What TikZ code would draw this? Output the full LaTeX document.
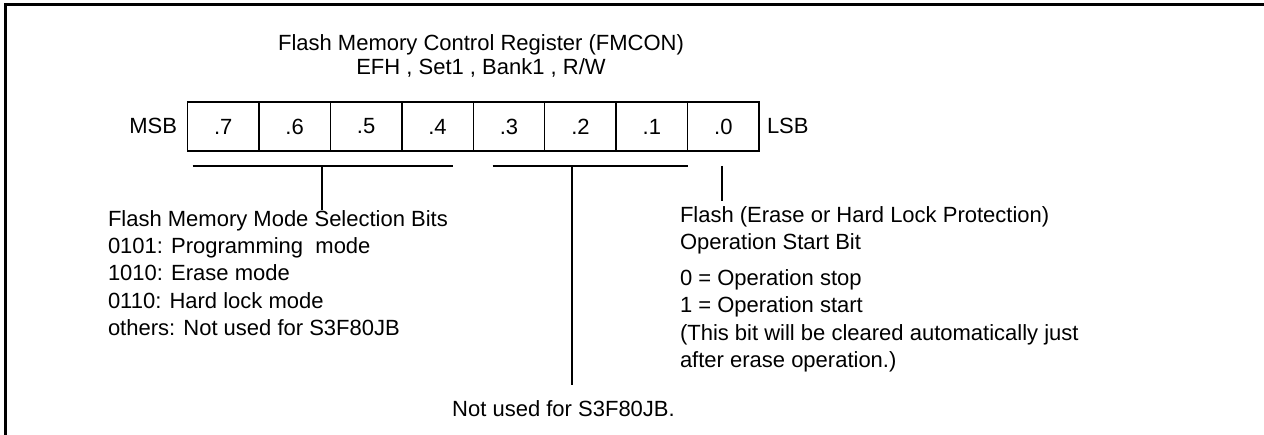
\documentclass[tikz,border=0pt]{standalone}
\usepackage{fontspec}
\setmainfont{Liberation Sans}
\begin{document}
\begin{tikzpicture}[x=1pt,y=-1pt,line width=1.4pt,
  txt/.style={font=\fontsize{22}{27.2}\selectfont, inner sep=0pt, outer sep=0pt},
  title/.style={font=\fontsize{22}{23.3}\selectfont, inner sep=0pt, align=center},
  cell/.style={draw, line width=1.4pt, minimum width=71.45pt, minimum height=49pt, inner sep=0pt, font=\fontsize{22}{26}\selectfont},
  frame/.style={line width=2.6pt},
  bracket/.style={line width=1.4pt}]
\path[use as bounding box] (0,0) rectangle (1264,435);
% outer frame (top and left edges visible)
\coordinate (fbl) at (5.3,440);
\coordinate (ftl) at (5.3,4.7);
\coordinate (ftr) at (1270,4.7);
\draw[frame] (fbl) -- (ftl) -- (ftr);
% title
\node[title, anchor=north] (title) at (481,34.2) {Flash Memory Control Register (FMCON)\\EFH , Set1 , Bank1 , R/W};
% register cells
\foreach \b in {7,...,0}{
  \pgfmathsetmacro{\xc}{223.2+71.45*(7-\b)}
  \node[cell] (c\b) at (\xc,126.5) {.\b};
}
\node[txt, anchor=base east] (msb) at (177,133.5) {MSB};
\node[txt, anchor=base west] (lsb) at (767,133.5) {LSB};
% bracket for bits 7..4
\coordinate (b1l) at (192.7,166);
\coordinate (b1r) at (452.7,166);
\coordinate (b1m) at (322,166);
\draw[bracket] (b1l) -- (b1r);
\node[txt, anchor=north west, align=left] (modes) at (108,210.5) {Flash Memory Mode Selection Bits\\0101: Programming\ \ mode\\1010: Erase mode\\0110: Hard lock mode\\others: Not used for S3F80JB};
\draw[bracket] (b1m) -- (b1m |- modes.north);
% bracket for bits 3..1
\coordinate (b2l) at (492.7,166);
\coordinate (b2r) at (688,166);
\coordinate (b2m) at (572,166);
\coordinate (b2e) at (572,385);
\draw[bracket] (b2l) -- (b2r);
\draw[bracket] (b2m) -- (b2e);
\node[txt, anchor=base] (nu) at (563.5,417) {Not used for S3F80JB.};
% bit 0
\coordinate (b0t) at (722,166);
\coordinate (b0e) at (722,201);
\draw[bracket] (b0t) -- (b0e);
\node[txt, anchor=north west, align=left] (op) at (680,206.3) {Flash (Erase or Hard Lock Protection)\\Operation Start Bit\\[9pt]0 = Operation stop\\1 = Operation start\\(This bit will be cleared automatically just\\after erase operation.)};
\end{tikzpicture}
\end{document}
